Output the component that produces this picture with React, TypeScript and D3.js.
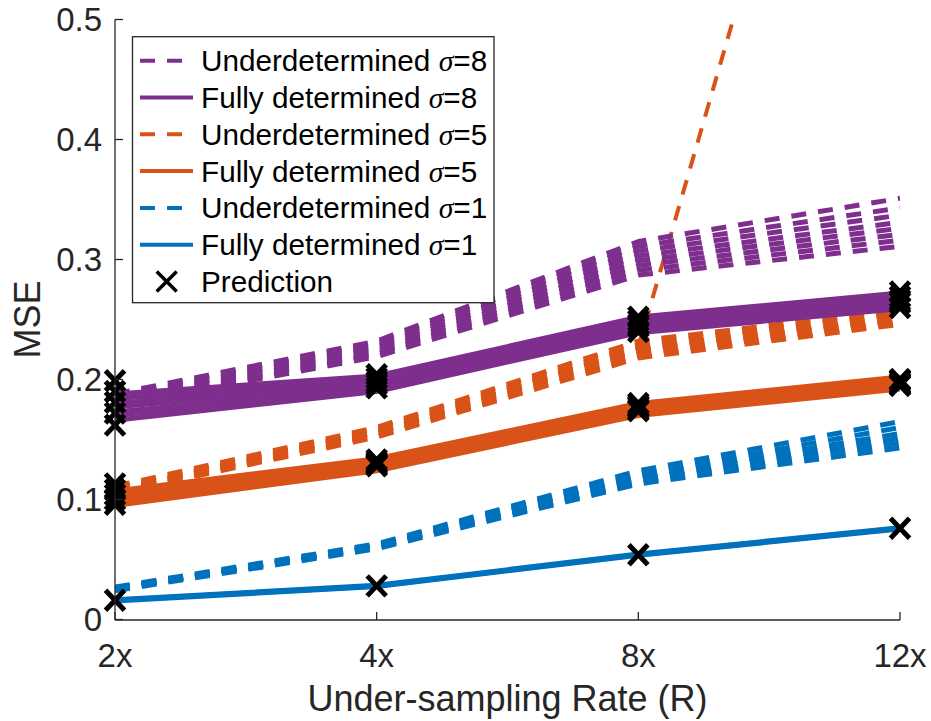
import React from "react";
import * as d3 from "d3";

const categories = ["2x", "4x", "8x", "12x"];
const yTicks = [0, 0.1, 0.2, 0.3, 0.4, 0.5];

// Underdetermined sigma=8 (several trials)
const ud8 = [
  [0.178, 0.219, 0.287, 0.311],
  [0.179, 0.221, 0.291, 0.316],
  [0.181, 0.222, 0.295, 0.321],
  [0.182, 0.224, 0.299, 0.326],
  [0.184, 0.226, 0.303, 0.331],
  [0.185, 0.228, 0.307, 0.337],
  [0.187, 0.23, 0.311, 0.343],
  [0.188, 0.232, 0.315, 0.351],
];
// Fully determined sigma=8
const fd8 = [
  [0.166, 0.19, 0.239, 0.259],
  [0.17, 0.192, 0.241, 0.261],
  [0.173, 0.194, 0.243, 0.263],
  [0.177, 0.197, 0.246, 0.266],
  [0.18, 0.199, 0.248, 0.268],
  [0.184, 0.201, 0.25, 0.27],
  [0.188, 0.203, 0.252, 0.272],
];
// Underdetermined sigma=5
const ud5 = [
  [0.105, 0.152, 0.218, 0.246],
  [0.106, 0.153, 0.221, 0.248],
  [0.107, 0.155, 0.224, 0.25],
  [0.108, 0.156, 0.226, 0.252],
  [0.109, 0.158, 0.229, 0.255],
  [0.111, 0.16, 0.232, 0.258],
  [0.108, 0.156, 0.227, 0.98],
];
// Fully determined sigma=5
const fd5 = [
  [0.095, 0.124, 0.17, 0.192],
  [0.097, 0.126, 0.172, 0.194],
  [0.099, 0.128, 0.174, 0.196],
  [0.101, 0.129, 0.175, 0.197],
  [0.103, 0.131, 0.177, 0.199],
  [0.105, 0.133, 0.179, 0.2],
  [0.107, 0.134, 0.18, 0.202],
];
// Underdetermined sigma=1
const ud1 = [
  [0.024, 0.059, 0.113, 0.143],
  [0.025, 0.06, 0.115, 0.147],
  [0.025, 0.061, 0.117, 0.151],
  [0.026, 0.061, 0.119, 0.155],
  [0.026, 0.062, 0.121, 0.16],
  [0.027, 0.063, 0.124, 0.165],
];
// Fully determined sigma=1
const fd1 = [
  [0.0155, 0.0275, 0.0535, 0.0755],
  [0.016, 0.028, 0.054, 0.076],
  [0.0165, 0.0285, 0.0545, 0.0765],
];
// Predictions
const pred8 = [
  [0.162, 0.193, 0.24, 0.26],
  [0.172, 0.196, 0.244, 0.264],
  [0.181, 0.198, 0.246, 0.266],
  [0.19, 0.201, 0.249, 0.269],
  [0.199, 0.204, 0.252, 0.273],
];
const pred5 = [
  [0.096, 0.128, 0.174, 0.195],
  [0.1, 0.129, 0.175, 0.196],
  [0.104, 0.13, 0.177, 0.197],
  [0.108, 0.131, 0.178, 0.199],
  [0.113, 0.133, 0.18, 0.2],
];
const pred1 = [[0.016, 0.028, 0.054, 0.076]];

const PURPLE = "#7E2F8E";
const ORANGE = "#D95319";
const BLUE = "#0072BD";
const AX = "#262626";

const legendItems = [
  { label: "Underdetermined ", sigma: "8", color: PURPLE, dashed: true },
  { label: "Fully determined ", sigma: "8", color: PURPLE, dashed: false },
  { label: "Underdetermined ", sigma: "5", color: ORANGE, dashed: true },
  { label: "Fully determined ", sigma: "5", color: ORANGE, dashed: false },
  { label: "Underdetermined ", sigma: "1", color: BLUE, dashed: true },
  { label: "Fully determined ", sigma: "1", color: BLUE, dashed: false },
];

const W = 931;
const H = 721;
const L = 115;
const R = 900;
const T = 19.5;
const B = 619.5;
const DASH = "15 12";
const LW = 5;
const FONT = "'Liberation Sans', Arial, Helvetica, sans-serif";

export default function App() {
  const x = d3.scalePoint<string>().domain(categories).range([L, R]).padding(0);
  const y = d3.scaleLinear().domain([0, 0.5]).range([B, T]);
  const line = d3
    .line<number>()
    .x((_, i) => x(categories[i]) as number)
    .y((d) => y(d));

  const groups = [
    { data: ud1, color: BLUE, dashed: true },
    { data: fd1, color: BLUE, dashed: false },
    { data: ud5, color: ORANGE, dashed: true },
    { data: fd5, color: ORANGE, dashed: false },
    { data: ud8, color: PURPLE, dashed: true },
    { data: fd8, color: PURPLE, dashed: false },
  ];
  const preds = [...pred1, ...pred5, ...pred8];
  const xm = "M-9.5,-10L9.5,10M-9.5,10L9.5,-10";

  const legX = 132.5;
  const legY = 36.7;
  const legW = 361.5;
  const legH = 266;
  const rowY0 = 60.7;
  const rowDy = 36.8;

  return (
    <svg
      width={W}
      height={H}
      style={{ position: "absolute", left: 0, top: 0, background: "#fff" }}
      fontFamily={FONT}
    >
      <defs>
        <clipPath id="plotclip">
          <rect x={L} y={T} width={R - L} height={B - T + 1} />
        </clipPath>
      </defs>
      <rect x={0} y={0} width={W} height={H} fill="#fff" />
      <g clipPath="url(#plotclip)">
        {groups.map((g, gi) =>
          g.data.map((d, di) => (
            <path
              key={`${gi}-${di}`}
              d={line(d) || ""}
              fill="none"
              stroke={g.color}
              strokeWidth={di === g.data.length - 1 && g.data === ud5 ? 4 : LW}
              strokeDasharray={g.dashed ? DASH : undefined}
              strokeLinejoin="round"
            />
          ))
        )}
      </g>
      {preds.map((p, pi) =>
        p.map((v, i) => (
          <path
            key={`m-${pi}-${i}`}
            d={xm}
            transform={`translate(${x(categories[i])},${y(v)})`}
            stroke="#000"
            strokeWidth={5}
            fill="none"
          />
        ))
      )}
      {/* axes */}
      <line x1={L} x2={L} y1={T} y2={B + 0.5} stroke={AX} strokeWidth={1.3} />
      <line x1={L} x2={R} y1={B + 0.5} y2={B + 0.5} stroke={AX} strokeWidth={1.3} />
      {yTicks.map((t) => (
        <g key={`yt${t}`}>
          <line x1={L} x2={L + 8} y1={y(t)} y2={y(t)} stroke={AX} strokeWidth={1.3} />
          <text
            x={L - 13}
            y={y(t) + 11.8}
            textAnchor="end"
            fontSize={33}
            fill={AX}
          >
            {t === 0 ? "0" : String(t)}
          </text>
        </g>
      ))}
      {categories.map((c) => (
        <g key={`xt${c}`}>
          <line
            x1={x(c) as number}
            x2={x(c) as number}
            y1={B + 0.5}
            y2={B - 7.5}
            stroke={AX}
            strokeWidth={1.3}
          />
          <text x={x(c) as number} y={667} textAnchor="middle" fontSize={33} fill={AX}>
            {c}
          </text>
        </g>
      ))}
      <text x={(L + R) / 2} y={711} textAnchor="middle" fontSize={36} fill={AX}>
        Under-sampling Rate (R)
      </text>
      <text
        transform={`translate(40,${(T + B) / 2}) rotate(-90)`}
        textAnchor="middle"
        fontSize={36}
        fill={AX}
      >
        MSE
      </text>
      {/* legend */}
      <rect
        x={legX}
        y={legY}
        width={legW}
        height={legH}
        fill="#fff"
        stroke={AX}
        strokeWidth={1.3}
      />
      {legendItems.map((it, i) => {
        const cy = rowY0 + i * rowDy;
        return (
          <g key={`leg${i}`}>
            <line
              x1={140}
              x2={193}
              y1={cy}
              y2={cy}
              stroke={it.color}
              strokeWidth={4}
              strokeDasharray={it.dashed ? DASH : undefined}
            />
            <text x={201} y={cy + 10.4} fontSize={29.7} fill="#000">
              {it.label}
              <tspan fontFamily="'Liberation Serif', 'Times New Roman', serif" fontStyle="italic">
                σ
              </tspan>
              <tspan>={it.sigma}</tspan>
            </text>
          </g>
        );
      })}
      <path
        d="M-10,-10L10,10M-10,10L10,-10"
        transform={`translate(166.7,${rowY0 + 6 * rowDy})`}
        stroke="#000"
        strokeWidth={3.5}
        fill="none"
      />
      <text x={201} y={rowY0 + 6 * rowDy + 10.4} fontSize={29.7} fill="#000">
        Prediction
      </text>
    </svg>
  );
}
